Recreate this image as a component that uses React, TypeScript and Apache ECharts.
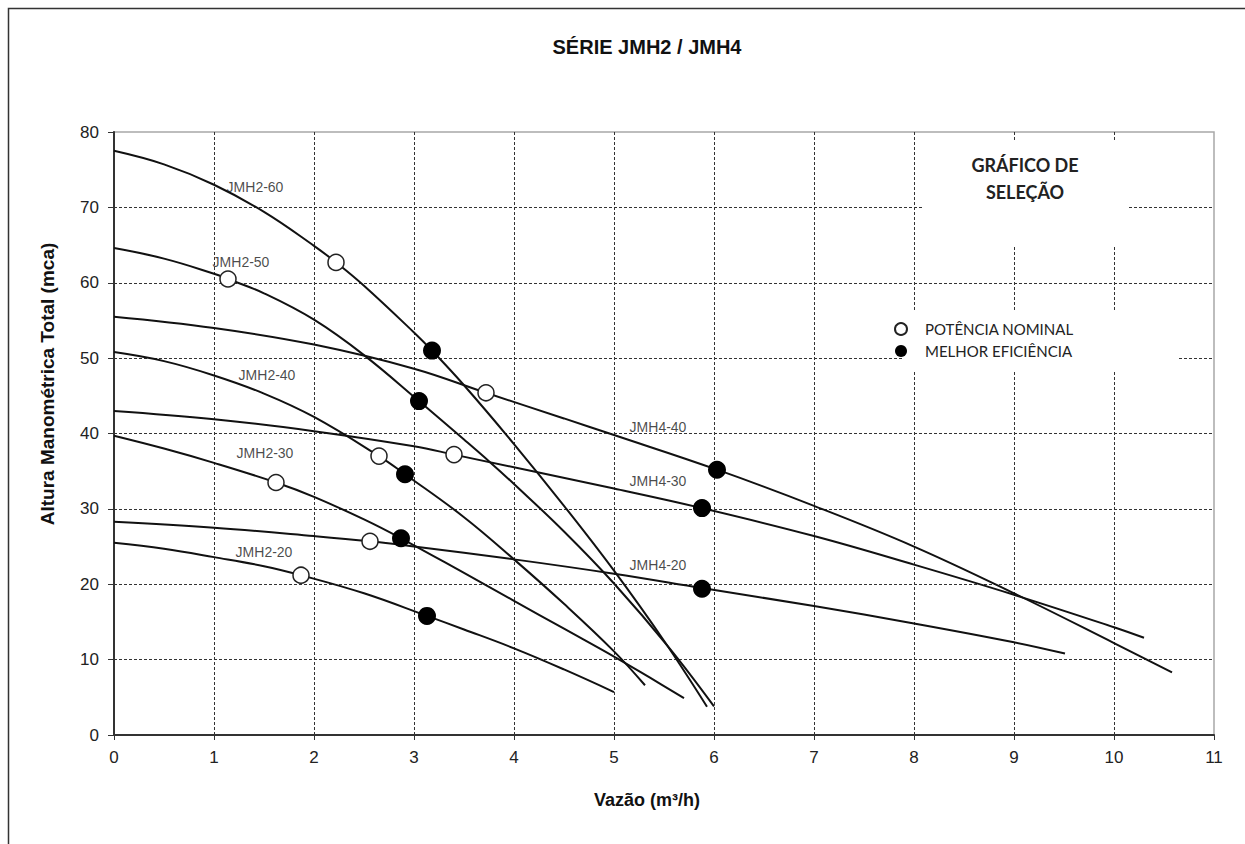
import React, { useEffect, useRef } from "react";
import * as echarts from "echarts";

// ---- data ----
const xMin = 0;
const xMax = 11;
const xInterval = 1;
const yMin = 0;
const yMax = 80;
const yInterval = 10;

const curveNames = ["JMH2-60", "JMH2-50", "JMH2-40", "JMH2-30", "JMH2-20", "JMH4-40", "JMH4-30", "JMH4-20"];

const jmh2_60: number[][] = [
  [0, 77.5], [0.5, 75.7], [1, 73.0], [1.5, 69.4], [2, 64.9], [2.22, 62.7], [2.5, 59.6], [3, 53.4],
  [3.18, 51.0], [3.5, 46.4], [4, 38.6], [4.5, 30.4], [5, 21.8], [5.5, 12.5], [5.93, 3.75],
];
const jmh2_50: number[][] = [
  [0, 64.6], [0.5, 63.2], [1, 61.2], [1.14, 60.5], [1.5, 58.6], [2, 55.1], [2.5, 50.4], [3.05, 44.3],
  [3.5, 39.2], [3.76, 36.2], [4, 33.3], [4.5, 27.0], [5, 20.1], [5.55, 11.6], [6.0, 3.8],
];
const jmh2_40: number[][] = [
  [0, 50.8], [0.5, 49.6], [1, 47.7], [1.5, 45.3], [2, 42.2], [2.65, 37.0], [2.91, 34.6], [3.5, 28.9],
  [4, 23.3], [4.5, 17.4], [5, 11.1], [5.31, 6.6],
];
const jmh2_30: number[][] = [
  [0, 39.7], [0.5, 38.0], [1, 36.1], [1.62, 33.5], [2, 31.6], [2.5, 28.6], [2.87, 26.1], [3.5, 21.5],
  [4, 17.8], [4.5, 14.1], [5, 10.4], [5.36, 7.6], [5.7, 4.9],
];
const jmh2_20: number[][] = [
  [0, 25.5], [0.5, 24.7], [1, 23.6], [1.5, 22.4], [1.87, 21.2], [2.5, 18.8], [3.13, 15.8], [3.5, 14.0],
  [4, 11.5], [4.5, 8.7], [5, 5.7],
];
const jmh4_40: number[][] = [
  [0, 55.5], [1, 54.0], [2, 51.8], [3, 48.6], [3.72, 45.4], [4.5, 42.0], [5, 39.8], [6.03, 35.2],
  [7, 30.4], [8, 25.0], [9, 18.8], [10, 12.2], [10.58, 8.3],
];
const jmh4_30: number[][] = [
  [0, 43.0], [1, 41.9], [2, 40.3], [3, 38.3], [3.4, 37.2], [5, 32.7], [5.88, 30.1], [7, 26.4],
  [8, 22.6], [9, 18.6], [10, 14.3], [10.3, 12.9],
];
const jmh4_20: number[][] = [
  [0, 28.3], [1, 27.5], [2, 26.4], [2.56, 25.7], [3, 25.0], [4, 23.3], [5, 21.4], [5.88, 19.5],
  [7, 17.1], [8, 14.8], [9, 12.3], [9.51, 10.8],
];
const curves = [jmh2_60, jmh2_50, jmh2_40, jmh2_30, jmh2_20, jmh4_40, jmh4_30, jmh4_20];

// open circles: "POTÊNCIA NOMINAL"
const nominalPoints: number[][] = [
  [2.22, 62.7], [1.14, 60.5], [2.65, 37.0], [1.62, 33.5], [1.87, 21.2], [3.72, 45.4], [3.4, 37.2], [2.56, 25.7],
];
// filled circles: "MELHOR EFICIÊNCIA"
const bestPoints: number[][] = [
  [3.18, 51.0], [3.05, 44.3], [2.91, 34.6], [2.87, 26.1], [3.13, 15.8], [6.03, 35.2], [5.88, 30.1], [5.88, 19.4],
];
// curve labels positions (data coords)
const labelPoints: (number | string)[][] = [
  [1.41, 72.7, "JMH2-60"], [1.27, 62.8, "JMH2-50"], [1.53, 47.7, "JMH2-40"], [1.51, 37.4, "JMH2-30"],
  [1.5, 24.3, "JMH2-20"], [5.44, 40.8, "JMH4-40"], [5.44, 33.7, "JMH4-30"], [5.44, 22.5, "JMH4-20"],
];

const nominalName = "POTÊNCIA NOMINAL";
const bestName = "MELHOR EFICIÊNCIA";

const ARIAL = "'Liberation Sans', Arial, sans-serif";
const CALIBRI_LIKE = "Lato, 'Open Sans', sans-serif";

export default function App() {
  const ref = useRef<HTMLDivElement>(null);
  useEffect(() => {
    if (!ref.current) return;
    const chart = echarts.init(ref.current, undefined, { renderer: "svg" });
    const lineSeries = curves.map((d, i) => ({
      name: curveNames[i],
      type: "line",
      data: d,
      smooth: 0.4,
      showSymbol: false,
      symbol: "none",
      lineStyle: { color: "#111", width: 2 },
      z: 2,
      silent: true,
    }));
    chart.setOption({
      animation: false,
      backgroundColor: "#fff",
      grid: {
        left: 114,
        top: 132,
        width: 1100,
        height: 603,
        show: true,
        borderColor: "#a8a8a8",
        borderWidth: 1.5,
        backgroundColor: "transparent",
      },
      xAxis: {
        type: "value",
        min: xMin,
        max: xMax,
        interval: xInterval,
        axisLine: { show: true, onZero: false, lineStyle: { color: "#333", width: 2 } },
        axisTick: { show: true, length: 5, lineStyle: { color: "#333" } },
        axisLabel: { fontFamily: ARIAL, fontSize: 17, color: "#222", margin: 14 },
        splitLine: {
          show: true,
          showMinLine: false,
          showMaxLine: false,
          lineStyle: { color: "#333", type: [3, 2], width: 1 },
        },
      },
      yAxis: {
        type: "value",
        min: yMin,
        max: yMax,
        interval: yInterval,
        axisLine: { show: true, onZero: false, lineStyle: { color: "#333", width: 2 } },
        axisTick: { show: true, length: 6, lineStyle: { color: "#333" } },
        axisLabel: { fontFamily: ARIAL, fontSize: 17, color: "#222", margin: 15 },
        splitLine: {
          show: true,
          showMinLine: false,
          showMaxLine: false,
          lineStyle: { color: "#333", type: [3, 2], width: 1 },
        },
      },
      legend: {
        data: [nominalName, bestName],
        orient: "vertical",
        left: 894,
        top: 321,
        itemWidth: 38,
        itemHeight: 12,
        itemGap: 6,
        padding: 0,
        icon: "circle",
        textStyle: { fontFamily: CALIBRI_LIKE, fontSize: 15, color: "#222", lineHeight: 16 },
        z: 5,
      },
      graphic: [
        {
          type: "rect",
          z: 0,
          silent: true,
          shape: { x: 8.5, y: 8.5, width: 1300, height: 900 },
          style: { fill: "none", stroke: "#333", lineWidth: 1.5 },
        },
        {
          type: "rect",
          z: 1,
          silent: true,
          shape: { x: 922, y: 140, width: 205, height: 107 },
          style: { fill: "#fff" },
        },
        {
          type: "rect",
          z: 1,
          silent: true,
          shape: { x: 903, y: 310, width: 274, height: 62 },
          style: { fill: "#fff" },
        },
        {
          type: "text",
          z: 5,
          x: 647,
          y: 47,
          style: {
            text: "SÉRIE JMH2 / JMH4",
            fontFamily: ARIAL,
            fontSize: 20,
            fontWeight: "bold",
            fill: "#111",
            align: "center",
            verticalAlign: "middle",
          },
        },
        {
          type: "text",
          z: 5,
          x: 47,
          y: 384,
          rotation: Math.PI / 2,
          style: {
            text: "Altura Manométrica Total (mca)",
            fontFamily: ARIAL,
            fontSize: 19,
            fontWeight: "bold",
            fill: "#111",
            align: "center",
            verticalAlign: "middle",
          },
        },
        {
          type: "text",
          z: 5,
          x: 647,
          y: 800,
          style: {
            text: "Vazão (m³/h)",
            fontFamily: ARIAL,
            fontSize: 18,
            fontWeight: "bold",
            fill: "#111",
            align: "center",
            verticalAlign: "middle",
          },
        },
        {
          type: "text",
          z: 5,
          x: 1025,
          y: 165,
          style: {
            text: "GRÁFICO DE",
            fontFamily: CALIBRI_LIKE,
            fontSize: 18,
            fontWeight: "bold",
            fill: "#222",
            align: "center",
            verticalAlign: "middle",
          },
        },
        {
          type: "text",
          z: 5,
          x: 1025,
          y: 192,
          style: {
            text: "SELEÇÃO",
            fontFamily: CALIBRI_LIKE,
            fontSize: 18,
            fontWeight: "bold",
            fill: "#222",
            align: "center",
            verticalAlign: "middle",
          },
        },
      ],
      series: [
        ...lineSeries,
        {
          name: nominalName,
          type: "scatter",
          data: nominalPoints,
          symbol: "circle",
          symbolSize: 16,
          itemStyle: { color: "#fff", borderColor: "#222", borderWidth: 1.5, opacity: 1 },
          z: 3,
          silent: true,
        },
        {
          name: bestName,
          type: "scatter",
          data: bestPoints,
          symbol: "circle",
          symbolSize: 18,
          itemStyle: { color: "#000", borderColor: "#000", borderWidth: 0, opacity: 1 },
          z: 3,
          silent: true,
        },
        {
          name: "labels",
          type: "scatter",
          data: labelPoints,
          symbolSize: 1,
          itemStyle: { color: "rgba(0,0,0,0)" },
          label: {
            show: true,
            position: "inside",
            formatter: (p: any) => p.data[2],
            fontFamily: ARIAL,
            fontSize: 14,
            color: "#1a1a1a",
          },
          z: 4,
          silent: true,
        },
      ],
    });
    return () => chart.dispose();
  }, []);
  return (
    <div
      ref={ref}
      style={{ position: "fixed", left: 0, top: 0, width: 1245, height: 844, background: "#fff" }}
    />
  );
}
